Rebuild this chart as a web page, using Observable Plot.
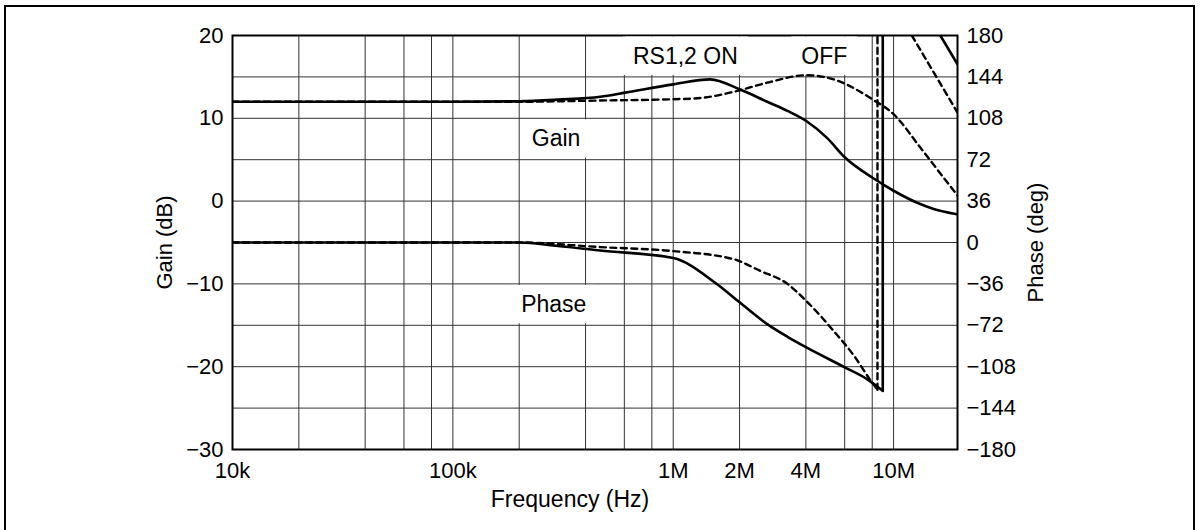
<!DOCTYPE html>
<html><head><meta charset="utf-8">
<script src="https://cdn.jsdelivr.net/npm/d3@7"></script>
<script src="https://cdn.jsdelivr.net/npm/@observablehq/plot@0.6"></script>
<style>
html,body{margin:0;padding:0;background:#fff;}
#wrap{position:relative;width:1201px;height:530px;overflow:hidden;background:#fff;}
#chart{position:absolute;left:0;top:0;}
#border{position:absolute;left:4px;top:5px;width:1191px;height:600px;border:2px solid #000;box-sizing:border-box;pointer-events:none;}
</style></head><body>
<div id="wrap"><div id="chart"></div><div id="border"></div></div>
<script>
// ---- Data ----
// Gain, RS1,2 ON (solid)
const gainOnFreq = [1e4, 1e5, 2e5, 3e5, 4.67e5, 6.07e5, 1e6, 1.47e6, 2e6, 2.67e6, 3.3e6, 4e6, 5e6, 6e6, 8e6, 1e7, 1.28e7, 1.52e7, 1.95e7];
const gainOnDb   = [12, 12, 12.05, 12.25, 12.6, 13.1, 14.1, 14.7, 13.5, 12.0, 10.9, 9.7, 7.6, 5.3, 2.85, 1.25, -0.2, -0.95, -1.6];
// Gain, OFF (dashed)
const gainOffFreq = [1e4, 1e5, 2e5, 4.67e5, 1e6, 1.33e6, 1.88e6, 2.67e6, 4e6, 5.35e6, 6.1e6, 8e6, 1e7, 1.32e7, 1.57e7, 1.95e7];
const gainOffDb   = [12, 12, 12, 12.15, 12.3, 12.45, 13.2, 14.3, 15.2, 14.7, 14.1, 12.3, 10.5, 6.5, 3.9, 0.7];
// Phase, RS1,2 ON (solid), degrees (wraps at ~8.9 MHz)
const phaseOnFreq = [1e4, 1e5, 2e5, 3e5, 4.67e5, 1e6, 1.55e6, 2e6, 2.67e6, 3.3e6, 4e6, 6e6, 7.6e6, 8.93e6, 8.93e6, 1.63e7, 1.95e7];
const phaseOnDeg  = [0, 0, 0, -3, -7, -13.5, -35, -52, -71, -82, -91, -108.5, -119, -129, 231, 180, 155];
// Phase, OFF (dashed), degrees (wraps at ~8.45 MHz)
const phaseOffFreq = [1e4, 1e5, 2e5, 4.67e5, 1e6, 1.88e6, 2.47e6, 3.3e6, 4e6, 5.35e6, 6.7e6, 7.8e6, 8.45e6, 8.45e6, 1.21e7, 1.95e7];
const phaseOffDeg  = [0, 0, 0, -4, -7.5, -14.5, -24.5, -36, -50.5, -77, -100, -119, -128, 232, 180, 113];

// Axes / ticks
const xTickValues = [1e4, 1e5, 1e6, 2e6, 4e6, 1e7];
const xTickLabels = ["10k", "100k", "1M", "2M", "4M", "10M"];
const gainTicks = [-30, -20, -10, 0, 10, 20];
const phaseTicks = [-180, -144, -108, -72, -36, 0, 36, 72, 108, 144, 180];
const freqGrid = [2e4, 4e4, 6e4, 8e4, 1e5, 2e5, 4e5, 6e5, 8e5, 1e6, 2e6, 4e6, 6e6, 8e6, 1e7];
const gainGrid = [-25, -20, -15, -10, -5, 0, 5, 10, 15];

// Annotations
const noteText = ["RS1,2 ON", "OFF", "Gain", "Phase"];
const noteFreq = [1.135e6, 4.85e6, 2.94e5, 2.87e5];
const noteGain = [17.5, 17.5, 7.6, -12.5];

// ---- Build tables ----
const phaseToGain = p => -5 + p * 5 / 36;
const gainToPhase = g => (g + 5) * 36 / 5;
const minus = v => (v < 0 ? "\u2212" + (-v) : String(v));

function build(freq, vals, key, isPhase) {
  const rows = freq.map((f, i) => ({f, g: isPhase ? phaseToGain(vals[i]) : vals[i], key}));
  let j = -1;
  for (let i = 1; i < freq.length; i++) if (freq[i] === freq[i - 1]) j = i - 1;
  if (j < 0) return {smooth: rows, wrap: []};
  return {smooth: rows.slice(0, j + 1), wrap: rows.slice(j)};
}
const gOn = build(gainOnFreq, gainOnDb, "gainOn", false);
const gOff = build(gainOffFreq, gainOffDb, "gainOff", false);
const pOn = build(phaseOnFreq, phaseOnDeg, "phaseOn", true);
const pOff = build(phaseOffFreq, phaseOffDeg, "phaseOff", true);

const solidSmooth = [...gOn.smooth, ...pOn.smooth];
const solidWrap = [...pOn.wrap];
const dashSmooth = [...gOff.smooth, ...pOff.smooth];
const dashWrap = [...pOff.wrap];

const notes = noteText.map((t, i) => ({t, f: noteFreq[i], g: noteGain[i]}));
const xTicks = xTickValues.map((v, i) => ({v, label: xTickLabels[i]}));

const FONT = "'Liberation Sans', Arial, Helvetica, sans-serif";
const DASH = "6,4.5";

const chart = Plot.plot({
  width: 1201,
  height: 530,
  marginLeft: 232,
  marginRight: 244,
  marginTop: 35,
  marginBottom: 81,
  style: {fontFamily: FONT, fontSize: "22px", color: "#000", background: "transparent"},
  x: {type: "log", domain: [1e4, 1.95e7], axis: null},
  y: {domain: [-30, 20], axis: null},
  marks: [
    Plot.ruleX(freqGrid, {stroke: "#333", strokeWidth: 1}),
    Plot.ruleY(gainGrid, {stroke: "#333", strokeWidth: 1}),
    Plot.frame({stroke: "#000", strokeWidth: 2}),
    Plot.line(dashSmooth, {x: "f", y: "g", z: "key", curve: "monotone-x", stroke: "#000", strokeWidth: 2.4, strokeDasharray: DASH, clip: true}),
    Plot.line(dashWrap, {x: "f", y: "g", z: "key", stroke: "#000", strokeWidth: 2.4, strokeDasharray: DASH, clip: true}),
    Plot.line(solidSmooth, {x: "f", y: "g", z: "key", curve: "monotone-x", stroke: "#000", strokeWidth: 2.6, clip: true}),
    Plot.line(solidWrap, {x: "f", y: "g", z: "key", stroke: "#000", strokeWidth: 2.6, clip: true}),
    Plot.text(xTicks, {x: "v", frameAnchor: "bottom", text: "label", textAnchor: "middle", lineAnchor: "top", dy: 13, fontSize: 22}),
    Plot.axisY(gainTicks, {anchor: "left", tickSize: 0, tickPadding: 9, tickFormat: minus, label: null, fontSize: 22}),
    Plot.axisY(phaseTicks.map(phaseToGain), {anchor: "right", tickSize: 0, tickPadding: 9, tickFormat: g => minus(Math.round(gainToPhase(g))), label: null, fontSize: 22}),
    Plot.text(["Gain (dB)"], {frameAnchor: "left", rotate: -90, dx: -68, text: d => d, textAnchor: "middle", lineAnchor: "middle", fontSize: 22}),
    Plot.text(["Phase (deg)"], {frameAnchor: "right", rotate: -90, dx: 78, text: d => d, textAnchor: "middle", lineAnchor: "middle", fontSize: 22}),
    Plot.text(["Frequency (Hz)"], {frameAnchor: "bottom", dy: 50, dx: -25, text: d => d, textAnchor: "middle", lineAnchor: "middle", fontSize: 23}),
    Plot.text(notes, {x: "f", y: "g", text: "t", fontSize: 23})
  ]
});
document.getElementById("chart").append(chart);

// white boxes behind annotation labels (between neighbouring grid lines)
(function () {
  const svg = chart.tagName.toLowerCase() === "svg" ? chart : chart.querySelector("svg");
  const ys = chart.scale("y");
  const sr = svg.getBoundingClientRect();
  const ns = "http://www.w3.org/2000/svg";
  const g = document.createElementNS(ns, "g");
  g.setAttribute("aria-label", "label-boxes");
  const texts = Array.from(svg.querySelectorAll("text"));
  notes.forEach(n => {
    const el = texts.find(t => t.textContent === n.t);
    if (!el) return;
    const bb = el.getBoundingClientRect();
    const top = ys.apply(Math.ceil(n.g / 5) * 5) + 1.5;
    const bottom = ys.apply(Math.floor(n.g / 5) * 5) - 1.5;
    const r = document.createElementNS(ns, "rect");
    r.setAttribute("x", bb.left - sr.left - 10);
    r.setAttribute("width", bb.width + 20);
    r.setAttribute("y", top);
    r.setAttribute("height", bottom - top);
    r.setAttribute("fill", "#fff");
    g.appendChild(r);
  });
  const firstLine = svg.querySelector('g[aria-label="line"]');
  if (firstLine) firstLine.parentNode.insertBefore(g, firstLine);
  else svg.appendChild(g);
})();
</script>
</body></html>
